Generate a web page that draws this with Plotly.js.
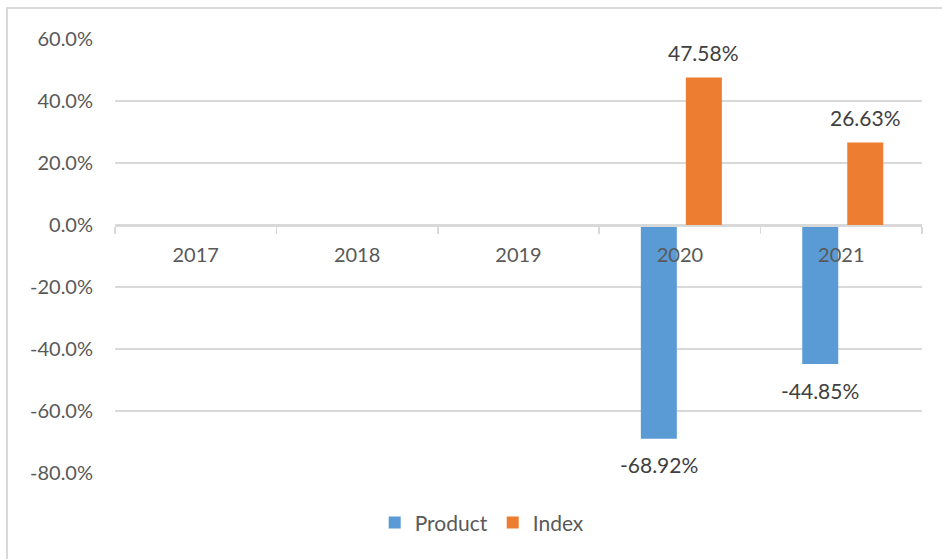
<!DOCTYPE html>
<html>
<head>
<meta charset="utf-8">
<script src="https://cdn.plot.ly/plotly-3.0.1.min.js"></script>
<style>
  html, body { margin: 0; padding: 0; background: #fff; }
  #wrap { position: relative; width: 942px; height: 559px; overflow: hidden; }
  #chart { position: absolute; left: 0; top: 0; width: 942px; height: 559px; }
  #frame { position: absolute; left: 6px; top: 7px; width: 960px; height: 580px;
           border: 2px solid #d9d9d9; box-sizing: border-box; pointer-events: none; }
</style>
</head>
<body>
<div id="wrap">
  <div id="chart"></div>
  <div id="frame"></div>
</div>
<script>
const categories = ['2017', '2018', '2019', '2020', '2021'];
const productValues = [null, null, null, -0.6892, -0.4485];
const indexValues = [null, null, null, 0.4758, 0.2663];
const yTickValues = [-0.8, -0.6, -0.4, -0.2, 0, 0.2, 0.4, 0.6];
const yTickLabels = ['-80.0%', '-60.0%', '-40.0%', '-20.0%', '0.0%', '20.0%', '40.0%', '60.0%'];

const barWidth = 0.223;
const productOffset = -0.242;
const indexOffset = 0.037;
const yMin = -0.8, yMax = 0.6;

const fontFamily = 'Lato, "Open Sans", sans-serif';
const tickColor = '#595959';
const labelColor = '#404040';

const traces = [
  {
    type: 'bar', name: 'Product', x: categories, y: productValues,
    width: barWidth, offset: productOffset,
    marker: { color: '#5b9bd5' }, hoverinfo: 'skip'
  },
  {
    type: 'bar', name: 'Index', x: categories, y: indexValues,
    width: barWidth, offset: indexOffset,
    marker: { color: '#ed7d31' }, hoverinfo: 'skip'
  }
];

const annotations = [];
function addLabels(vals, offset) {
  vals.forEach((v, i) => {
    if (v === null) return;
    annotations.push({
      x: i + offset + barWidth / 2, y: v, xref: 'x', yref: 'y',
      text: (v * 100).toFixed(2) + '%', showarrow: false,
      yshift: v >= 0 ? 25 : -26,
      font: { family: fontFamily, size: 21, color: labelColor }
    });
  });
}
addLabels(productValues, productOffset);
addLabels(indexValues, indexOffset);

const zeroPos = (0 - yMin) / (yMax - yMin);

const layout = {
  width: 942, height: 559,
  margin: { l: 115, r: 20, t: 39, b: 86 },
  paper_bgcolor: '#ffffff', plot_bgcolor: '#ffffff',
  barmode: 'overlay',
  showlegend: true,
  legend: {
    orientation: 'h', x: 0.455, xanchor: 'center', y: -0.115, yanchor: 'middle',
    font: { family: fontFamily, size: 21, color: tickColor },
    itemwidth: 30
  },
  xaxis: {
    type: 'category', range: [-0.5, 4.5],
    anchor: 'free', position: zeroPos,
    showline: true, linecolor: '#d9d9d9', linewidth: 1.5,
    showgrid: false, zeroline: false,
    ticks: 'outside', tickson: 'boundaries', ticklen: 7, tickcolor: '#d9d9d9', tickwidth: 1.5,
    ticklabelstandoff: 11,
    tickfont: { family: fontFamily, size: 20, color: tickColor }
  },
  yaxis: {
    range: [yMin, yMax], tickvals: yTickValues, ticktext: yTickLabels,
    showgrid: true, gridcolor: '#d9d9d9', gridwidth: 1.3,
    zeroline: false, showline: false, ticks: '',
    ticklabelstandoff: 21,
    tickfont: { family: fontFamily, size: 20, color: tickColor }
  },
  annotations: annotations
};

Plotly.newPlot('chart', traces, layout, { staticPlot: true, displayModeBar: false });
</script>
</body>
</html>
